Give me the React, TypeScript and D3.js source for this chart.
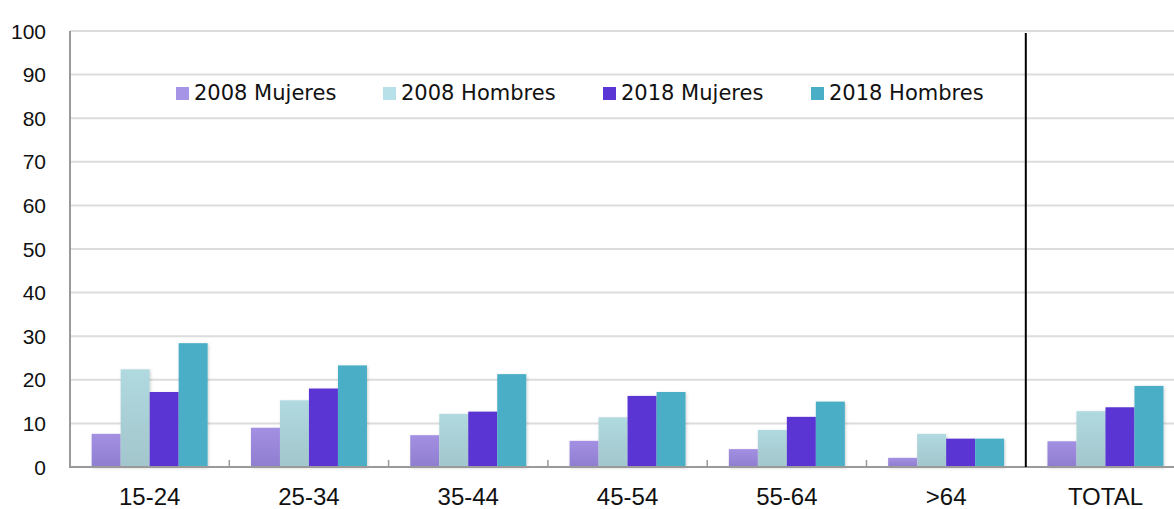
import React from "react";
import * as d3 from "d3";

const categories = ["15-24", "25-34", "35-44", "45-54", "55-64", ">64", "TOTAL"];
const seriesNames = ["2008 Mujeres", "2008 Hombres", "2018 Mujeres", "2018 Hombres"];
const mujeres2008 = [7.6, 9.0, 7.3, 6.0, 4.1, 2.1, 5.9];
const hombres2008 = [22.4, 15.3, 12.2, 11.4, 8.5, 7.6, 12.8];
const mujeres2018 = [17.2, 18.0, 12.7, 16.3, 11.5, 6.5, 13.7];
const hombres2018 = [28.4, 23.3, 21.3, 17.2, 15.0, 6.5, 18.6];
const yTicks = [0, 10, 20, 30, 40, 50, 60, 70, 80, 90, 100];

const seriesValues = [mujeres2008, hombres2008, mujeres2018, hombres2018];
const legendColors = ["#a695e6", "#b8e0e8", "#5a36d4", "#4aaec6"];
const barFills = ["url(#g2008m)", "url(#g2008h)", "#5a36d4", "#4aaec6"];

const W = 1174;
const H = 509;
const left = 70;
const step = 159.3;
const top = 31;
const bottom = 467;
const axisFont = "'Liberation Sans', Arial, sans-serif";
const legendFont = "'DejaVu Sans', sans-serif";

export default function App() {
  const x = d3
    .scaleBand<string>()
    .domain(categories)
    .range([left, left + step * categories.length])
    .padding(0);
  const inner = d3
    .scaleBand<string>()
    .domain(seriesNames)
    .range([0, x.bandwidth()])
    .paddingInner(0)
    .paddingOuter(0.747);
  const y = d3.scaleLinear().domain([0, 100]).range([bottom, top]);

  const legendX = [176, 383, 603, 811];

  return (
    <svg
      width={W}
      height={H}
      style={{ position: "absolute", left: 0, top: 0, background: "#fff" }}
      fontFamily={axisFont}
    >
      <defs>
        <linearGradient id="g2008m" x1="0" y1="0" x2="0" y2="1">
          <stop offset="0" stopColor="#a390e3" />
          <stop offset="1" stopColor="#8f7dd0" />
        </linearGradient>
        <linearGradient id="g2008h" x1="0" y1="0" x2="0" y2="1">
          <stop offset="0" stopColor="#b0d9e0" />
          <stop offset="1" stopColor="#a2c6cc" />
        </linearGradient>
        <filter id="shadow" x="-20%" y="-20%" width="140%" height="140%">
          <feDropShadow dx="1" dy="1" stdDeviation="1.5" floodColor="#000" floodOpacity="0.18" />
        </filter>
      </defs>

      {yTicks.map((t) => (
        <g key={t}>
          {t > 0 && (
            <line x1={left} x2={W} y1={y(t)} y2={y(t)} stroke="#dcdcdc" strokeWidth={2} />
          )}
          <text
            x={46}
            y={y(t)}
            textAnchor="end"
            dominantBaseline="central"
            fontSize={21}
            fill="#111"
          >
            {t}
          </text>
        </g>
      ))}

      <g filter="url(#shadow)">
        {categories.map((c, ci) =>
          seriesNames.map((s, si) => {
            const v = seriesValues[si][ci];
            return (
              <rect
                key={c + s}
                x={(x(c) as number) + (inner(s) as number)}
                y={y(v)}
                width={inner.bandwidth()}
                height={y(0) - y(v)}
                fill={barFills[si]}
              />
            );
          })
        )}
      </g>

      <line x1={left} x2={left} y1={top} y2={bottom} stroke="#9a9a9a" strokeWidth={2} />
      <line x1={left - 1} x2={W} y1={bottom} y2={bottom} stroke="#9a9a9a" strokeWidth={2} />

      {categories.slice(1, 6).map((c) => (
        <line
          key={"t" + c}
          x1={x(c) as number}
          x2={x(c) as number}
          y1={bottom}
          y2={bottom - 7}
          stroke="#9a9a9a"
          strokeWidth={1.5}
        />
      ))}
      <line
        x1={x("TOTAL") as number}
        x2={x("TOTAL") as number}
        y1={33}
        y2={bottom}
        stroke="#000"
        strokeWidth={2}
      />

      {categories.map((c) => (
        <text
          key={"l" + c}
          x={(x(c) as number) + x.bandwidth() / 2}
          y={504.5}
          textAnchor="middle"
          fontSize={24}
          fill="#111"
        >
          {c}
        </text>
      ))}

      {seriesNames.map((s, i) => (
        <g key={"lg" + s}>
          <rect x={legendX[i]} y={87} width={13} height={13} fill={legendColors[i]} />
          <text
            x={legendX[i] + 18}
            y={93}
            dominantBaseline="central"
            fontSize={21}
            fontFamily={legendFont}
            fill="#111"
          >
            {s}
          </text>
        </g>
      ))}
    </svg>
  );
}
